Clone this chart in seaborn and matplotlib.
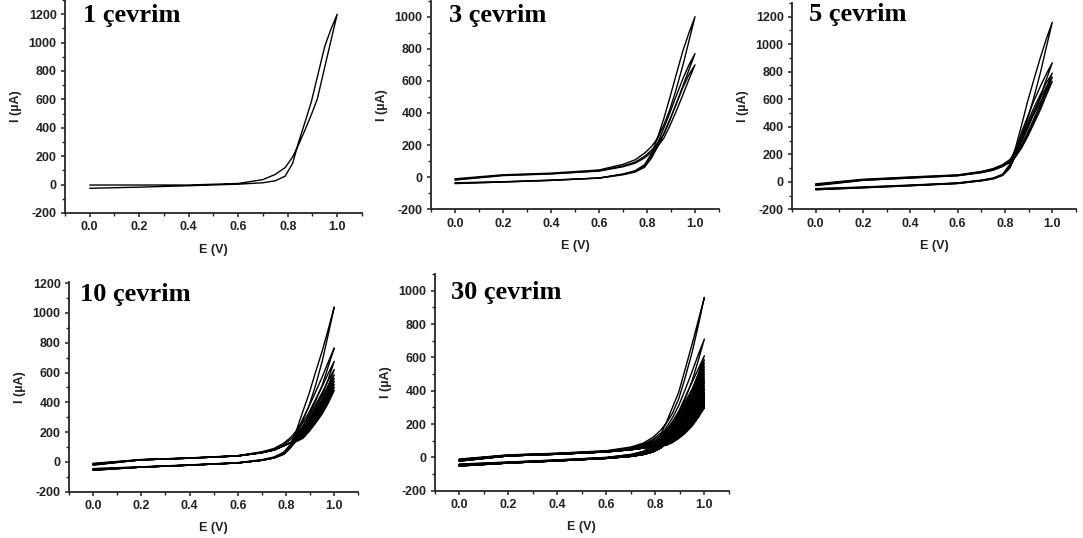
import matplotlib
matplotlib.use("Agg")
import matplotlib.pyplot as plt
import seaborn as sns
import pandas as pd
from matplotlib.ticker import MultipleLocator

# ---------------- data (E in V, I in µA) ----------------
E_GRID = [0.0, 0.2, 0.4, 0.6, 0.7, 0.75, 0.79, 0.82, 0.845, 0.87, 0.895, 0.92, 0.95, 0.975, 1.0]

TITLES = ["1 çevrim", "3 çevrim", "5 çevrim", "10 çevrim", "30 çevrim"]

# 1 cycle
P1_FWD = [[-3, -3, -3, 8, 35, 72, 120, 195, 285, 385, 490, 605, 830, 1015, 1200]]
P1_REV = [[-26, -18, -8, 3, 13, 27, 60, 150, 305, 440, 580, 760, 975, 1095, 1200]]

# 3 cycles
P2_FWD = [
    [-10, 15, 25, 45, 80, 108, 150, 193, 245, 325, 420, 540, 700, 850, 1000],
    [-15, 12, 22, 40, 70, 94, 130, 170, 212, 268, 355, 450, 570, 670, 770],
    [-18, 10, 20, 38, 65, 87, 120, 157, 193, 243, 320, 405, 515, 610, 700],
]
P2_REV = [
    [-40, -30, -20, -5, 20, 40, 78, 150, 250, 365, 495, 630, 790, 900, 1000],
    [-35, -28, -18, -5, 18, 36, 70, 135, 215, 305, 400, 500, 615, 700, 770],
    [-38, -30, -20, -6, 15, 32, 62, 122, 192, 272, 358, 450, 560, 640, 700],
]

# 5 cycles
P3_FWD = [
    [-15, 18, 35, 50, 75, 96, 125, 160, 220, 335, 455, 600, 795, 980, 1160],
    [-20, 15, 32, 48, 72, 91, 119, 152, 205, 290, 385, 490, 620, 745, 865],
    [-22, 14, 30, 46, 70, 88, 116, 148, 195, 268, 355, 450, 565, 680, 790],
    [-25, 12, 28, 45, 68, 86, 113, 144, 188, 256, 340, 430, 545, 655, 760],
    [-28, 10, 27, 44, 66, 84, 111, 140, 182, 245, 325, 415, 525, 630, 730],
]
P3_REV = [
    [-50, -38, -24, -8, 12, 27, 55, 125, 250, 410, 580, 730, 905, 1040, 1160],
    [-52, -40, -26, -10, 10, 25, 52, 115, 230, 360, 470, 580, 695, 785, 865],
    [-55, -42, -27, -11, 9, 23, 50, 108, 210, 330, 430, 530, 635, 720, 790],
    [-57, -43, -28, -12, 8, 22, 48, 103, 200, 315, 410, 505, 608, 690, 760],
    [-58, -44, -29, -13, 7, 21, 46, 98, 190, 300, 392, 485, 583, 662, 730],
]

# 10 cycles
P4_FWD = [
    [-10, 16, 27, 42, 68, 90, 125, 165, 212, 280, 375, 500, 675, 855, 1040],
    [-12, 15, 26, 41, 65, 85, 116, 152, 190, 240, 315, 400, 515, 640, 765],
    [-14, 14, 25, 40, 62, 80, 108, 130, 182, 223, 284, 358, 452, 554, 675],
    [-15, 14, 25, 40, 62, 80, 108, 130, 167, 205, 260, 329, 415, 508, 620],
    [-16, 14, 25, 40, 62, 80, 108, 130, 158, 193, 246, 310, 392, 480, 585],
    [-17, 14, 25, 40, 62, 80, 108, 130, 151, 185, 235, 297, 375, 459, 560],
    [-18, 14, 25, 40, 62, 80, 108, 130, 146, 178, 227, 286, 362, 443, 540],
    [-19, 14, 25, 40, 62, 80, 108, 130, 142, 172, 218, 276, 348, 426, 520],
    [-20, 14, 25, 40, 62, 80, 108, 130, 140, 165, 210, 265, 335, 410, 500],
    [-22, 14, 25, 40, 62, 80, 108, 130, 138, 158, 202, 254, 322, 394, 480],
]
P4_REV = [
    [-45, -33, -20, -5, 15, 33, 65, 120, 220, 340, 455, 590, 745, 890, 1040],
    [-47, -34, -21, -6, 13, 30, 59, 108, 195, 290, 372, 460, 570, 670, 765],
    [-50, -35, -22, -7, 11, 27, 52, 100, 203, 263, 331, 412, 506, 594, 675],
    [-51, -35, -22, -7, 11, 27, 52, 100, 186, 242, 304, 378, 465, 546, 620],
    [-52, -35, -22, -7, 11, 27, 52, 100, 176, 228, 287, 357, 439, 515, 585],
    [-53, -35, -22, -7, 11, 27, 52, 100, 168, 218, 274, 342, 420, 493, 560],
    [-54, -35, -22, -7, 11, 27, 52, 100, 162, 211, 265, 329, 405, 475, 540],
    [-55, -35, -22, -7, 11, 27, 52, 100, 156, 203, 255, 317, 390, 458, 520],
    [-56, -35, -22, -7, 11, 27, 52, 100, 150, 195, 245, 305, 375, 440, 500],
    [-57, -35, -22, -7, 11, 27, 52, 100, 144, 187, 235, 293, 360, 422, 480],
]

# 30 cycles
P5_FWD = [
    [-10, 15, 25, 40, 62, 85, 120, 160, 205, 265, 350, 470, 630, 790, 960],
    [-12, 14, 24, 38, 58, 78, 108, 143, 165, 200, 258, 345, 460, 580, 710],
    [-13, 13, 23, 37, 55, 73, 100, 130, 148, 180, 232, 305, 400, 500, 610],
    [-14, 12, 22, 36, 52, 67, 90, 112, 140, 176, 222, 281, 369, 468, 585],
    [-14, 12, 22, 36, 52, 67, 90, 112, 136, 170, 215, 271, 356, 452, 565],
    [-15, 12, 22, 36, 52, 67, 90, 112, 131, 164, 207, 262, 343, 436, 545],
    [-15, 12, 22, 36, 52, 67, 90, 112, 127, 158, 201, 253, 333, 422, 528],
    [-16, 12, 22, 36, 52, 67, 90, 112, 123, 154, 195, 246, 323, 410, 512],
    [-16, 11, 21, 35, 50, 63, 82, 98, 119, 149, 189, 239, 313, 398, 497],
    [-16, 11, 21, 35, 50, 63, 82, 98, 116, 145, 184, 232, 304, 386, 483],
    [-17, 11, 21, 35, 50, 63, 82, 98, 113, 141, 179, 226, 296, 376, 470],
    [-17, 11, 21, 35, 50, 63, 82, 98, 110, 137, 174, 219, 288, 366, 457],
    [-17, 11, 21, 35, 50, 63, 82, 98, 107, 134, 169, 214, 280, 356, 445],
    [-18, 11, 21, 35, 50, 63, 82, 98, 104, 130, 165, 208, 273, 346, 433],
    [-18, 10, 20, 34, 48, 60, 75, 86, 101, 127, 160, 203, 266, 338, 422],
    [-18, 10, 20, 34, 48, 60, 75, 86, 99, 123, 156, 197, 259, 329, 411],
    [-19, 10, 20, 34, 48, 60, 75, 86, 96, 120, 152, 192, 253, 321, 401],
    [-19, 10, 20, 34, 48, 60, 75, 86, 94, 117, 149, 188, 246, 313, 391],
    [-19, 10, 20, 34, 48, 60, 75, 86, 92, 115, 145, 183, 241, 306, 382],
    [-20, 10, 20, 34, 48, 60, 75, 86, 90, 112, 142, 179, 235, 298, 373],
    [-20, 10, 20, 34, 48, 60, 75, 85, 87, 109, 138, 175, 229, 291, 364],
    [-20, 9, 19, 33, 46, 56, 66, 70, 85, 107, 135, 171, 224, 285, 356],
    [-20, 9, 19, 33, 46, 56, 66, 70, 84, 104, 132, 167, 219, 278, 348],
    [-21, 9, 19, 33, 46, 56, 66, 70, 82, 102, 129, 163, 214, 272, 340],
    [-21, 9, 19, 33, 46, 56, 66, 70, 80, 100, 127, 160, 210, 266, 333],
    [-21, 9, 19, 33, 46, 56, 66, 70, 78, 98, 124, 156, 205, 261, 326],
    [-22, 9, 19, 33, 46, 56, 66, 70, 77, 96, 121, 153, 201, 255, 319],
    [-22, 9, 19, 33, 46, 56, 66, 70, 75, 94, 119, 150, 197, 250, 312],
    [-22, 9, 19, 33, 46, 56, 66, 70, 74, 92, 116, 146, 192, 244, 305],
    [-23, 9, 19, 33, 46, 56, 66, 70, 73, 89, 113, 143, 188, 238, 298],
]
P5_REV = [
    [-40, -28, -15, 0, 18, 36, 70, 130, 210, 300, 390, 520, 680, 820, 960],
    [-42, -29, -16, -1, 16, 33, 62, 115, 180, 238, 310, 400, 515, 615, 710],
    [-43, -30, -17, -2, 14, 30, 56, 103, 165, 215, 275, 355, 450, 530, 610],
    [-44, -31, -18, -3, 12, 26, 50, 92, 158, 205, 263, 328, 410, 497, 585],
    [-45, -31, -18, -3, 12, 26, 50, 92, 153, 198, 254, 316, 396, 480, 565],
    [-45, -31, -18, -3, 12, 26, 50, 92, 147, 191, 245, 305, 382, 463, 545],
    [-46, -31, -18, -3, 12, 26, 50, 92, 143, 185, 238, 296, 370, 449, 528],
    [-46, -31, -18, -3, 12, 26, 50, 92, 138, 179, 230, 287, 358, 435, 512],
    [-46, -32, -19, -4, 10, 23, 44, 78, 134, 174, 224, 278, 348, 422, 497],
    [-47, -32, -19, -4, 10, 23, 44, 78, 130, 169, 217, 270, 338, 411, 483],
    [-47, -32, -19, -4, 10, 23, 44, 78, 127, 165, 212, 263, 329, 400, 470],
    [-47, -32, -19, -4, 10, 23, 44, 78, 123, 160, 206, 256, 320, 388, 457],
    [-48, -32, -19, -4, 10, 23, 44, 78, 120, 156, 200, 249, 312, 378, 445],
    [-48, -32, -19, -4, 10, 23, 44, 78, 117, 152, 195, 242, 303, 368, 433],
    [-48, -33, -20, -5, 8, 20, 38, 66, 114, 148, 190, 236, 295, 359, 422],
    [-48, -33, -20, -5, 8, 20, 38, 66, 111, 144, 185, 230, 288, 349, 411],
    [-49, -33, -20, -5, 8, 20, 38, 66, 108, 140, 180, 225, 281, 341, 401],
    [-49, -33, -20, -5, 8, 20, 38, 66, 106, 137, 176, 219, 274, 332, 391],
    [-49, -33, -20, -5, 8, 20, 38, 66, 103, 134, 172, 214, 267, 325, 382],
    [-50, -33, -20, -5, 8, 20, 38, 66, 101, 131, 168, 209, 261, 317, 373],
    [-50, -33, -20, -5, 8, 20, 38, 66, 98, 127, 164, 204, 255, 309, 364],
    [-50, -34, -21, -6, 6, 17, 33, 55, 96, 125, 160, 199, 249, 303, 356],
    [-50, -34, -21, -6, 6, 17, 33, 55, 94, 122, 157, 195, 244, 296, 348],
    [-50, -34, -21, -6, 6, 17, 33, 55, 92, 119, 153, 190, 238, 289, 340],
    [-51, -34, -21, -6, 6, 17, 33, 55, 90, 117, 150, 186, 233, 283, 333],
    [-51, -34, -21, -6, 6, 17, 33, 55, 88, 114, 147, 183, 228, 277, 326],
    [-51, -34, -21, -6, 6, 17, 33, 55, 86, 112, 144, 179, 223, 271, 319],
    [-52, -34, -21, -6, 6, 17, 33, 55, 84, 109, 140, 175, 218, 265, 312],
    [-52, -34, -21, -6, 6, 17, 33, 55, 82, 107, 137, 171, 214, 259, 305],
    [-52, -34, -21, -6, 6, 17, 33, 55, 80, 104, 134, 167, 209, 253, 298],
]

Y_LIMITS = [(-200, 1300), (-200, 1100), (-200, 1300), (-200, 1210), (-200, 1100)]
Y_TOPTICK = [1200, 1000, 1200, 1200, 1000]

# ---------------- style ----------------
sns.set_style("ticks")
plt.rcParams["font.family"] = ["Liberation Sans", "DejaVu Sans"]
plt.rcParams["axes.linewidth"] = 1.3
plt.rcParams["axes.unicode_minus"] = False

fig = plt.figure(figsize=(10.83, 5.38), dpi=100)

# axes rectangles in figure fraction
RECTS = [
    (0.0600, 0.6041, 0.2742, 0.3959),
    (0.3980, 0.6110, 0.2659, 0.3878),
    (0.7313, 0.6110, 0.2622, 0.3835),
    (0.0637, 0.0861, 0.2672, 0.3903),
    (0.4015, 0.0879, 0.2715, 0.4028),
]
TITLE_POS = [(0.061, 0.897), (0.063, 0.896), (0.061, 0.914), (0.038, 0.908), (0.054, 0.883)]

PANELS = [(P1_FWD, P1_REV), (P2_FWD, P2_REV), (P3_FWD, P3_REV),
          (P4_FWD, P4_REV), (P5_FWD, P5_REV)]


def build_frame(fwd, rev):
    rows = []
    for c, (f, r) in enumerate(zip(fwd, rev)):
        step = 0
        for e, i in zip(E_GRID, f):
            rows.append((c, step, e, i)); step += 1
        for e, i in zip(E_GRID[::-1], r[::-1]):
            rows.append((c, step, e, i)); step += 1
    return pd.DataFrame(rows, columns=["cycle", "step", "E", "I"])


for k, ((fwd, rev), rect) in enumerate(zip(PANELS, RECTS)):
    ax = fig.add_axes(rect)
    df = build_frame(fwd, rev)
    sns.lineplot(data=df, x="E", y="I", units="cycle", estimator=None,
                 sort=False, color="black", lw=1.0, ax=ax, legend=False)
    ax.set_xlim(-0.1, 1.1)
    ax.set_ylim(*Y_LIMITS[k])
    ax.set_xticks([0.0, 0.2, 0.4, 0.6, 0.8, 1.0])
    ax.set_xticklabels(["0.0", "0.2", "0.4", "0.6", "0.8", "1.0"])
    ax.set_yticks(list(range(-200, Y_TOPTICK[k] + 1, 200)))
    ax.xaxis.set_minor_locator(MultipleLocator(0.1))
    ax.yaxis.set_minor_locator(MultipleLocator(100))
    ax.tick_params(which="major", direction="out", length=3, width=1.1,
                   pad=3, labelsize=9, colors="#222222")
    ax.tick_params(which="minor", direction="out", length=2, width=1.0,
                   colors="#222222")
    for lab in ax.get_xticklabels() + ax.get_yticklabels():
        lab.set_fontweight("bold")
    sns.despine(ax=ax)
    ax.set_xlabel("E (V)", fontsize=9, fontweight="bold", labelpad=7.5, color="#222222")
    ax.set_ylabel("I (µA)", fontsize=9, fontweight="bold", labelpad=5, color="#222222")
    ax.text(TITLE_POS[k][0], TITLE_POS[k][1], TITLES[k], transform=ax.transAxes,
            family="Liberation Serif", fontweight="bold", fontsize=19,
            va="baseline", ha="left", color="black")

fig.savefig("out.png", dpi=100)
